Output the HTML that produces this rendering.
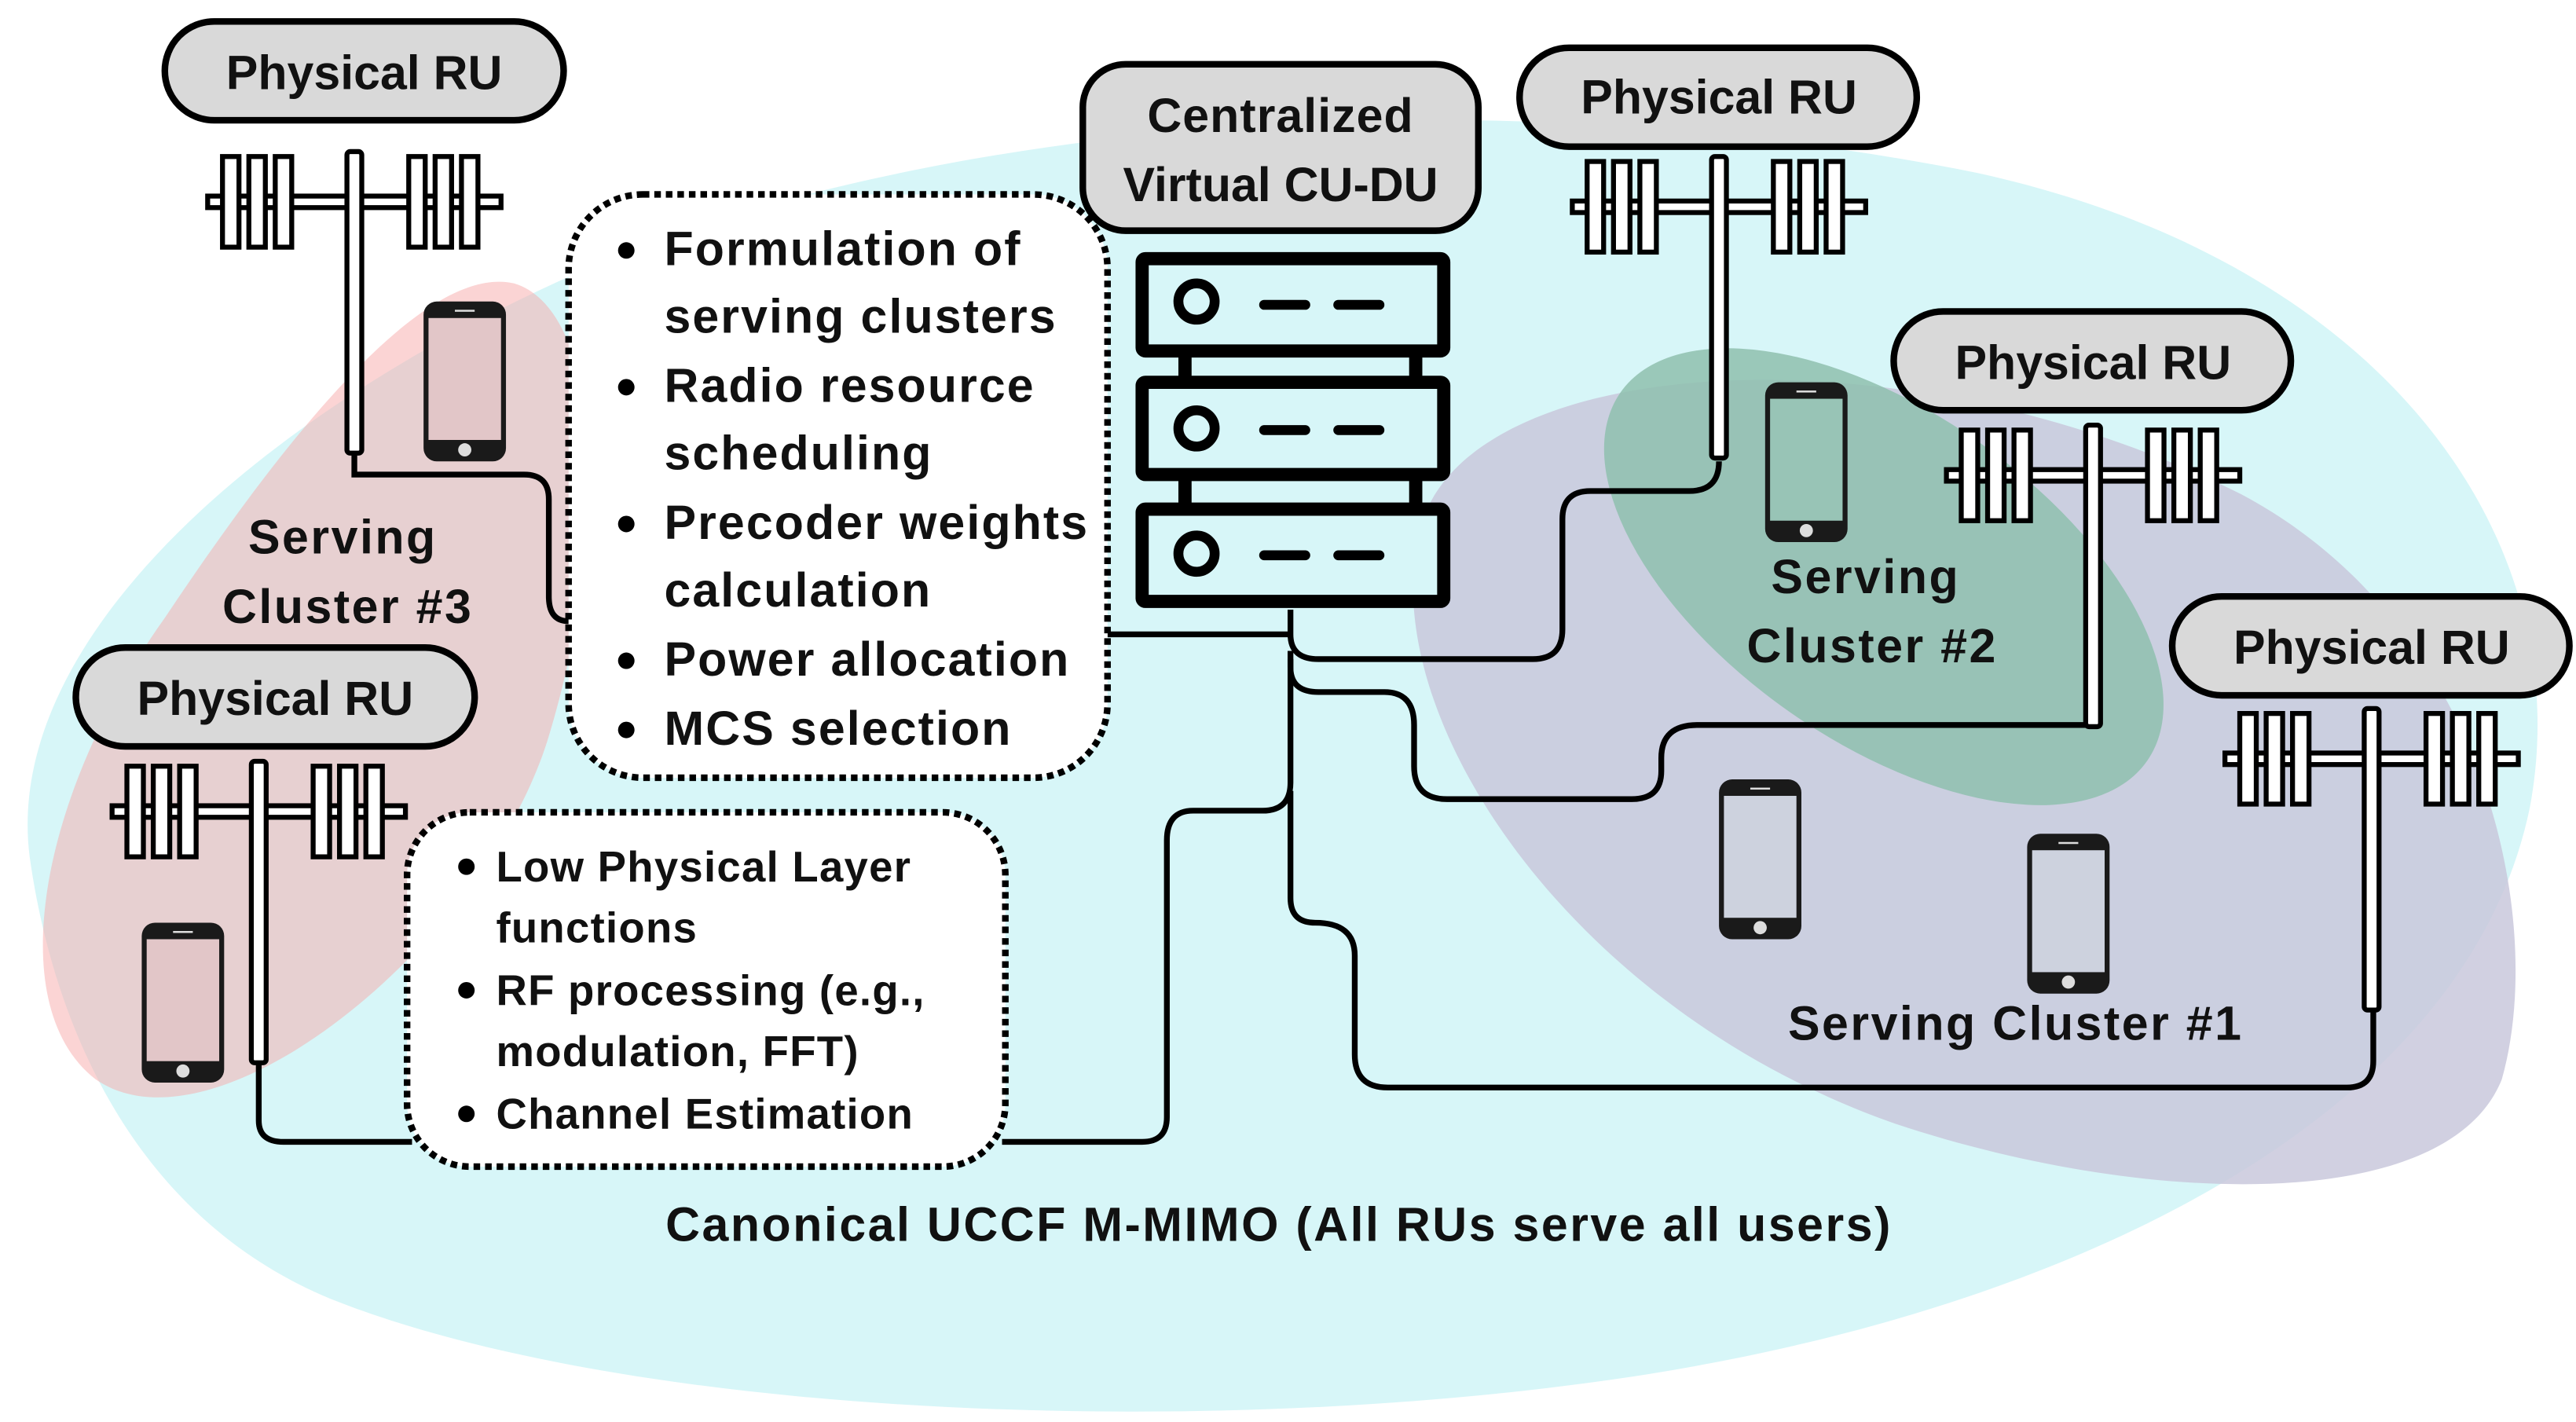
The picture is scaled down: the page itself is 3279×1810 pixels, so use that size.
<!DOCTYPE html>
<html><head><meta charset="utf-8"><style>
html,body{margin:0;padding:0;background:#fff;}
svg{display:block;}
text{font-family:"Liberation Sans",sans-serif;font-weight:bold;fill:#111;}
</style></head><body>
<svg width="3279" height="1810" viewBox="0 0 1563 863" preserveAspectRatio="none" xmlns="http://www.w3.org/2000/svg">
<defs>
<g id="ant">
  <rect x="-89" y="27" width="178" height="7" fill="#fff" stroke="#000" stroke-width="3"/>
  <g fill="#fff" stroke="#000" stroke-width="3">
    <rect x="-80" y="3" width="10" height="55"/><rect x="-64" y="3" width="10" height="55"/><rect x="-48" y="3" width="10" height="55"/>
    <rect x="33" y="3" width="10" height="55"/><rect x="49" y="3" width="10" height="55"/><rect x="65" y="3" width="10" height="55"/>
    <rect x="-4.5" y="0" width="9" height="183" rx="2"/>
  </g>
</g>
<g id="phone">
  <rect x="0" y="0" width="50" height="97" rx="8" fill="#1a1a1a"/>
  <rect x="3" y="10" width="44" height="74" fill="currentColor"/>
  <circle cx="25" cy="90" r="4" fill="#ddd"/>
  <rect x="19" y="5" width="12" height="1.2" fill="#ddd"/>
</g>
</defs>

<path d="M18,520 C0,380 180,230 400,145 C600,75 900,45 1200,105 C1450,160 1565,330 1535,490 C1500,660 1300,775 1050,825 C800,875 400,868 200,788 C80,738 32,620 18,520 Z" fill="#d7f6f8"/>
<path d="M58,655 C0,610 25,480 100,375 C180,255 260,160 312,172 C365,188 372,320 332,450 C292,575 130,705 58,655 Z" fill="#f7a9a9" fill-opacity="0.5"/>
<path d="M862,320 C890,215 1150,195 1360,300 C1510,380 1545,560 1518,655 C1485,738 1300,732 1150,682 C950,612 832,430 862,320 Z" fill="#c9c8dc" fill-opacity="0.85"/>
<ellipse cx="1143" cy="350" rx="195" ry="100" transform="rotate(35 1143 350)" fill="#8fc0ae" fill-opacity="0.85"/>

<g fill="none" stroke="#000" stroke-width="3.5">
<path d="M215,275 V288 H318 Q333,288 333,303 V362 Q333,377 345,377"/>
<path d="M672,385 H783"/>
<path d="M783,370 V385 Q783,400 800,400 H930 Q948,400 948,382 V315 Q948,298 965,298 H1025 Q1043,298 1043,280"/>
<path d="M783,395 V405 Q783,420 800,420 H840 Q858,420 858,440 V465 Q858,485 878,485 H990 Q1008,485 1008,468 V460 Q1008,440 1030,440 H1270"/>
<path d="M783,400 V475 Q783,492 766,492 H724 Q708,492 708,510 V678 Q708,693 693,693 H608"/>
<path d="M783,480 V545 Q783,560 798,560 Q822,560 822,580 V640 Q822,660 842,660 H1424 Q1440,660 1440,644 V612"/>
<path d="M157,645 V680 Q157,693 172,693 H250"/>
</g>

<use href="#ant" x="215" y="92"/>
<use href="#ant" x="157" y="462"/>
<use href="#ant" x="1043" y="95"/>
<use href="#ant" x="1270" y="258"/>
<use href="#ant" x="1439" y="430"/>

<use href="#phone" x="257" y="183" color="#e2c6c8"/>
<use href="#phone" x="1071" y="232" color="#98c4b6"/>
<use href="#phone" x="86" y="560" color="#e2c6c8"/>
<use href="#phone" x="1043" y="473" color="#cdd2de"/>
<use href="#phone" x="1230" y="506" color="#cdd2de"/>

<g fill="#d7f6f8" stroke="#000" stroke-width="8">
<rect x="693" y="157" width="183" height="56" rx="2"/>
<rect x="693" y="232" width="183" height="56" rx="2"/>
<rect x="693" y="309" width="183" height="56" rx="2"/>
</g>
<g stroke="#000" stroke-width="8">
<line x1="719" y1="213" x2="719" y2="232"/><line x1="859" y1="213" x2="859" y2="232"/>
<line x1="719" y1="288" x2="719" y2="309"/><line x1="859" y1="288" x2="859" y2="309"/>
</g>
<g fill="none" stroke="#000" stroke-width="6" stroke-linecap="round">
<circle cx="726" cy="183" r="11"/><circle cx="726" cy="260" r="11"/><circle cx="726" cy="336" r="11"/>
<path d="M767,185 H792 M812,185 H837 M767,261 H792 M812,261 H837 M767,337 H792 M812,337 H837"/>
</g>

<g fill="#d9d9d9" stroke="#000" stroke-width="4">
<rect x="100" y="13" width="242" height="60" rx="30"/>
<rect x="922" y="29" width="241" height="60" rx="30"/>
<rect x="1149" y="189" width="241" height="60" rx="30"/>
<rect x="1318" y="362" width="241" height="60" rx="30"/>
<rect x="46" y="393" width="242" height="60" rx="30"/>
<rect x="657" y="39" width="240" height="101" rx="26"/>
</g>
<g font-size="29" text-anchor="middle">
<text x="221" y="54">Physical RU</text>
<text x="1043" y="69">Physical RU</text>
<text x="1270" y="230">Physical RU</text>
<text x="1439" y="403">Physical RU</text>
<text x="167" y="434">Physical RU</text>
<text x="777" y="80" letter-spacing="0.5">Centralized</text>
<text x="777" y="122">Virtual CU-DU</text>
</g>

<g fill="#fff" stroke="#000" stroke-width="4" stroke-dasharray="4 3">
<rect x="345" y="118" width="327" height="354" rx="45"/>
<rect x="247" y="493" width="363" height="215" rx="38"/>
</g>
<g font-size="29" letter-spacing="1">
<text x="403" y="161">Formulation of</text>
<text x="403" y="202">serving clusters</text>
<text x="403" y="244">Radio resource</text>
<text x="403" y="285">scheduling</text>
<text x="403" y="327">Precoder weights</text>
<text x="403" y="368">calculation</text>
<text x="403" y="410">Power allocation</text>
<text x="403" y="452">MCS selection</text>
</g>
<g fill="#000">
<circle cx="380" cy="152" r="5"/><circle cx="380" cy="235" r="5"/><circle cx="380" cy="318" r="5"/><circle cx="380" cy="401" r="5"/><circle cx="380" cy="443" r="5"/>
<circle cx="283" cy="526" r="5"/><circle cx="283" cy="601" r="5"/><circle cx="283" cy="676" r="5"/>
</g>
<g font-size="26" letter-spacing="0.6">
<text x="301" y="535">Low Physical Layer</text>
<text x="301" y="572">functions</text>
<text x="301" y="610">RF processing (e.g.,</text>
<text x="301" y="647">modulation, FFT)</text>
<text x="301" y="685">Channel Estimation</text>
</g>

<g font-size="29" text-anchor="middle" letter-spacing="1.2">
<text x="208" y="336">Serving</text>
<text x="211" y="378">Cluster #3</text>
<text x="1132" y="360">Serving</text>
<text x="1136" y="402">Cluster #2</text>
<text x="1223" y="631">Serving Cluster #1</text>
<text x="776" y="753">Canonical UCCF M-MIMO (All RUs serve all users)</text>
</g>
</svg>
</body></html>
